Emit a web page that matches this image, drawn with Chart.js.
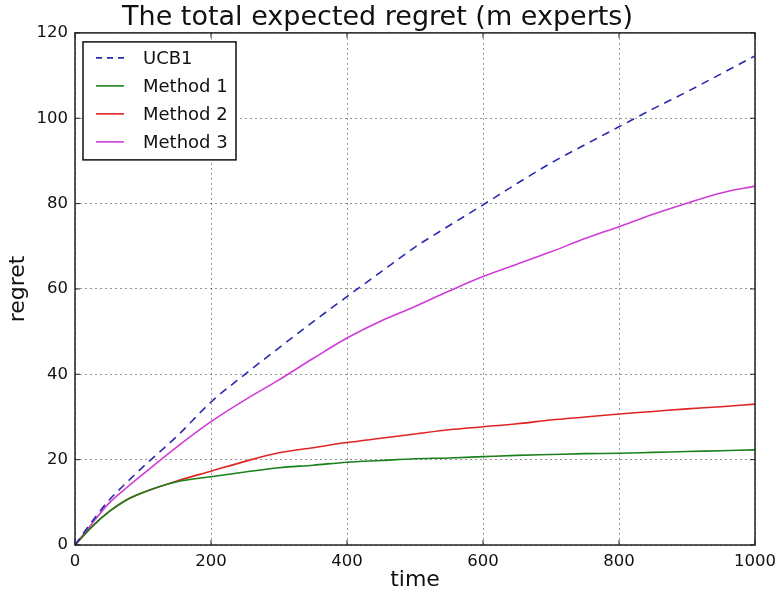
<!DOCTYPE html>
<html>
<head>
<meta charset="utf-8">
<script src="https://cdn.jsdelivr.net/npm/chart.js@4.4.0/dist/chart.umd.min.js"></script>
<style>
html, body { margin: 0; padding: 0; background: #fff; }
</style>
</head>
<body>
<canvas id="chart" width="779" height="599"></canvas>
<script>
// data
const times = [0, 25, 50, 75, 100, 150, 200, 250, 300, 350, 400, 450, 500, 550, 600, 650, 700, 750, 800, 850, 900, 950, 1000]
const ucb1    = [0, 5.5, 10.5, 14.5, 18.3, 25.5, 33.5, 40.0, 46.2, 52.3, 58.2, 64.0, 69.8, 74.8, 79.7, 84.7, 89.5, 93.8, 98.0, 102.2, 106.2, 110.4, 114.6]
const method1 = [0, 4.3, 7.8, 10.5, 12.3, 14.8, 16.0, 17.1, 18.1, 18.7, 19.4, 19.8, 20.2, 20.4, 20.7, 21.0, 21.2, 21.4, 21.5, 21.7, 21.9, 22.1, 22.3]
const method2 = [0, 4.3, 7.8, 10.5, 12.3, 15.0, 17.3, 19.6, 21.6, 22.8, 24.0, 25.0, 26.0, 27.0, 27.7, 28.4, 29.3, 30.0, 30.7, 31.3, 31.9, 32.4, 33.0]
const method3 = [0, 5.0, 9.8, 13.3, 16.6, 23.0, 28.9, 34.0, 38.7, 43.7, 48.5, 52.5, 55.9, 59.5, 62.9, 65.8, 68.7, 71.8, 74.6, 77.5, 80.1, 82.5, 84.1]

const FONT = "'DejaVu Sans', Verdana, sans-serif"

function pts(vals){
    return vals.map((v, i) => ({x: times[i], y: v}))
}

function series(label, vals, color, dash){
    return {
        label: label,
        data: pts(vals),
        borderColor: color,
        backgroundColor: color,
        borderWidth: 1.6,
        borderDash: dash || [],
        pointRadius: 0,
        cubicInterpolationMode: 'monotone',
        fill: false
    }
}

// frame, inward ticks and the boxed legend inside the plot
const framePlugin = {
    id: 'frame',
    afterDraw(chart){
        const ctx = chart.ctx
        const a = chart.chartArea
        const xs = chart.scales.x
        const ys = chart.scales.y
        ctx.save()
        ctx.strokeStyle = '#222'
        ctx.lineWidth = 1.5
        ctx.strokeRect(a.left, a.top, a.right - a.left, a.bottom - a.top)

        ctx.lineWidth = 1
        ctx.beginPath()
        xs.ticks.forEach(t => {
            const px = xs.getPixelForValue(t.value)
            ctx.moveTo(px, a.bottom); ctx.lineTo(px, a.bottom - 5)
            ctx.moveTo(px, a.top); ctx.lineTo(px, a.top + 5)
        })
        ys.ticks.forEach(t => {
            const py = ys.getPixelForValue(t.value)
            ctx.moveTo(a.left, py); ctx.lineTo(a.left + 5, py)
            ctx.moveTo(a.right, py); ctx.lineTo(a.right - 5, py)
        })
        ctx.stroke()

        // legend
        const bx = a.left + 8, by = a.top + 9, bw = 153, bh = 118
        ctx.fillStyle = '#fff'
        ctx.fillRect(bx, by, bw, bh)
        ctx.strokeStyle = '#111'
        ctx.lineWidth = 1.5
        ctx.strokeRect(bx, by, bw, bh)
        ctx.font = '18px ' + FONT
        ctx.textBaseline = 'middle'
        ctx.fillStyle = '#111'
        chart.data.datasets.forEach((ds, i) => {
            const y = by + 16 + i * 28
            ctx.strokeStyle = ds.borderColor
            ctx.lineWidth = 1.6
            ctx.setLineDash(ds.borderDash.length ? [6, 5] : [])
            ctx.beginPath()
            ctx.moveTo(bx + 13, y); ctx.lineTo(bx + 41, y)
            ctx.stroke()
            ctx.setLineDash([])
            ctx.fillText(ds.label, bx + 60, y + 1)
        })
        ctx.restore()
    }
}

new Chart(document.getElementById('chart'), {
    type: 'line',
    data: {
        datasets: [
            series('UCB1', ucb1, '#2a2aae', [8, 6]),
            series('Method 1', method1, '#1a801a'),
            series('Method 2', method2, '#e02424'),
            series('Method 3', method3, '#d03cd6')
        ]
    },
    options: {
        responsive: false,
        animation: false,
        devicePixelRatio: 1,
        layout: { padding: { left: 0, right: 24, top: 0, bottom: 0 } },
        plugins: {
            legend: { display: false },
            tooltip: { enabled: false },
            title: {
                display: true,
                text: 'The total expected regret (m experts)',
                color: '#111',
                font: { family: FONT, size: 27, weight: 'normal', lineHeight: 1.07 },
                padding: { top: 4, bottom: 0 }
            }
        },
        scales: {
            x: {
                type: 'linear',
                min: 0, max: 1000,
                ticks: { stepSize: 200, color: '#111', padding: 0, font: { family: FONT, size: 16.5 },
                         callback: v => String(v) },
                grid: { color: 'rgba(0,0,0,0.42)', lineWidth: 1, drawTicks: true, tickLength: 7, tickColor: 'rgba(0,0,0,0)' },
                border: { display: false, dash: [2, 3] },
                title: { display: true, text: 'time', color: '#111', font: { family: FONT, size: 22 }, padding: { top: 0, bottom: 6 } },
                afterFit(s){ s.height = 54 }
            },
            y: {
                min: 0, max: 120,
                ticks: { stepSize: 20, color: '#111', padding: 7, font: { family: FONT, size: 16.5 },
                         callback: v => String(v) },
                grid: { color: 'rgba(0,0,0,0.42)', lineWidth: 1, drawTicks: false },
                border: { display: false, dash: [2, 3] },
                title: { display: true, text: 'regret', color: '#111', font: { family: FONT, size: 22 }, padding: { top: 5, bottom: 0 } },
                afterFit(s){ s.width = 75 }
            }
        }
    },
    plugins: [framePlugin]
})
</script>
</body>
</html>
